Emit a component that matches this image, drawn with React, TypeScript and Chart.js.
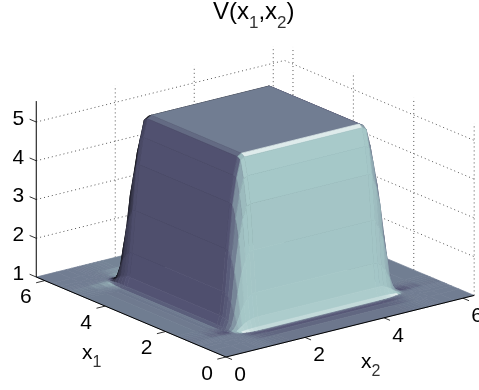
import React, { useEffect, useRef } from "react";
import { Chart, registerables } from "chart.js";

Chart.register(...registerables);

// Sample positions along x1 and x2 (both axes use the same mesh)
const meshX = [0, 0.5, 0.75, 0.9, 0.97, 1.03, 1.1, 1.17, 1.25, 1.35, 1.45, 1.55, 1.65,
  4.63, 4.73, 4.83, 4.93, 5.03, 5.11, 5.18, 5.25, 5.31, 5.38, 5.53, 5.78, 6.283];

// V(x1,x2): one quadrant, the surface mirrors about the centre
const vRow0 = [1, 1, 1, 1, 1, 1, 1, 1, 1, 1, 1, 1, 1];
const vRow1 = [1, 1, 1, 1, 1, 1, 1, 0.998, 0.996, 0.994, 0.993, 0.992, 0.992];
const vRow2 = [1, 1, 1, 1, 1, 1, 0.999, 0.995, 0.99, 0.984, 0.98, 0.978, 0.977];
const vRow3 = [1, 1, 1, 1, 1, 1, 0.998, 0.992, 0.983, 0.973, 0.967, 0.963, 0.962];
const vRow4 = [1, 1, 1, 1, 1, 1, 0.998, 0.992, 0.982, 0.971, 0.965, 0.961, 0.96];
const vRow5 = [1, 1, 1, 1, 1, 1, 1.002, 1.007, 1.015, 1.025, 1.03, 1.034, 1.034];
const vRow6 = [1, 1, 0.999, 0.998, 0.998, 1.002, 1.015, 1.052, 1.116, 1.186, 1.227, 1.254, 1.258];
const vRow7 = [1, 0.998, 0.995, 0.992, 0.992, 1.007, 1.052, 1.172, 1.387, 1.619, 1.757, 1.847, 1.86];
const vRow8 = [1, 0.996, 0.99, 0.983, 0.982, 1.015, 1.116, 1.387, 1.871, 2.393, 2.703, 2.906, 2.935];
const vRow9 = [1, 0.994, 0.984, 0.973, 0.971, 1.025, 1.186, 1.619, 2.393, 3.229, 3.724, 4.05, 4.096];
const vRow10 = [1, 0.993, 0.98, 0.967, 0.965, 1.03, 1.227, 1.757, 2.703, 3.724, 4.33, 4.727, 4.784];
const vRow11 = [1, 0.992, 0.978, 0.963, 0.961, 1.034, 1.254, 1.847, 2.906, 4.05, 4.727, 5.172, 5.236];
const vRow12 = [1, 0.992, 0.977, 0.962, 0.96, 1.034, 1.258, 1.86, 2.935, 4.096, 4.784, 5.236, 5.3];
const vQuadrant = [vRow0, vRow1, vRow2, vRow3, vRow4, vRow5, vRow6, vRow7, vRow8, vRow9, vRow10, vRow11, vRow12];

const x1Ticks = [0, 2, 4, 6];
const x2Ticks = [0, 2, 4, 6];
const zTicks = [1, 2, 3, 4, 5];
const xMax = 6.283;
const zBase = 1;
const zGridTop = 5.44;
const zAxisTop = 5.54;

// Fixed view of the 3-D box, in page units
const project = (x1: number, x2: number, z: number) => ({
  x: 226 + 39.5 * x2 - 30.2 * x1,
  y: 357 - 9.8 * x2 - 12.73 * x1 - 38.75 * (z - zBase),
});

const v = (i: number, j: number) => vQuadrant[i < 13 ? i : 25 - i][j < 13 ? j : 25 - j];

// bone colormap stops
const boneStops: [number, number, number, number][] = [
  [0, 0, 0, 0],
  [0.375, 0.325, 0.325, 0.45],
  [0.75, 0.65, 0.785, 0.785],
  [1, 1, 1, 1],
];
const bone = (t: number) => {
  const c = Math.max(0, Math.min(1, t));
  for (let k = 1; k < boneStops.length; k++) {
    if (c <= boneStops[k][0]) {
      const a = boneStops[k - 1];
      const b = boneStops[k];
      const f = (c - a[0]) / (b[0] - a[0]);
      const ch = (n: number) => Math.round(255 * (a[n] + (b[n] - a[n]) * f));
      return `rgb(${ch(1)},${ch(2)},${ch(3)})`;
    }
  }
  return "#fff";
};

const light = [-0.897, -0.107, 0.427];
const shine = [-0.707, 0, 0.707];
const slopeGain = 2.5;
const shade = (sx1: number, sx2: number) => {
  const a = sx1 * slopeGain;
  const b = sx2 * slopeGain;
  const len = Math.hypot(a, b, 1);
  const n = [-a / len, -b / len, 1 / len];
  const dot = (p: number[]) => n[0] * p[0] + n[1] * p[1] + n[2] * p[2];
  return 0.3 + 0.468 * dot(light) + 0.18 * Math.pow(Math.max(0, dot(shine)), 8);
};

const lineSet = (pts: { x: number; y: number }[], color: string, width: number, dash: number[] = []) => ({
  type: "scatter" as const,
  data: pts,
  showLine: true,
  fill: false,
  pointRadius: 0,
  borderColor: color,
  borderWidth: width,
  borderDash: dash,
  clip: false,
});

function buildDatasets() {
  const sets: any[] = [];
  const black = "#000";
  const tickCol = "#333";
  // axes and ticks on top
  sets.push(lineSet([project(xMax, 0, zBase), project(0, 0, zBase), project(0, xMax, zBase)], black, 1));
  sets.push(lineSet([project(xMax, 0, zBase), project(xMax, 0, zAxisTop)], black, 1));
  x1Ticks.forEach((t) => sets.push(lineSet([project(t, 0, zBase), project(t, -0.22, zBase)], tickCol, 1)));
  x2Ticks.forEach((t) => sets.push(lineSet([project(0, t, zBase), project(-0.2, t, zBase)], tickCol, 1)));
  zTicks.forEach((t) => sets.push(lineSet([project(xMax, 0, t), project(xMax + 0.22, 0, t)], tickCol, 1)));
  // surface, front facets first because later datasets are painted underneath
  for (let i = 0; i < meshX.length - 1; i++) {
    for (let j = 0; j < meshX.length - 1; j++) {
      const a = meshX[i], b = meshX[i + 1], c = meshX[j], d = meshX[j + 1];
      const z00 = v(i, j), z10 = v(i + 1, j), z01 = v(i, j + 1), z11 = v(i + 1, j + 1);
      const s1 = (z10 + z11 - z00 - z01) / (2 * (b - a));
      const s2 = (z01 + z11 - z00 - z10) / (2 * (d - c));
      const color = bone(shade(s1, s2));
      const p0 = project(a, c, z00);
      sets.push({
        type: "scatter" as const,
        data: [p0, project(b, c, z10), project(b, d, z11), project(a, d, z01), p0],
        showLine: true,
        fill: "shape",
        backgroundColor: color,
        borderColor: color,
        borderWidth: 0.7,
        pointRadius: 0,
        clip: false,
      });
    }
  }
  // grid on the two back walls and their dotted lines
  const dotted = [1, 3];
  const gridCol = "#555";
  zTicks.slice(1).forEach((t) => {
    sets.push(lineSet([project(xMax, 0, t), project(xMax, xMax, t), project(0, xMax, t)], gridCol, 1, dotted));
  });
  x2Ticks.slice(1).forEach((t) => {
    sets.push(lineSet([project(xMax, t, zBase), project(xMax, t, zGridTop)], gridCol, 1, dotted));
  });
  x1Ticks.forEach((t) => {
    sets.push(lineSet([project(t, xMax, zBase), project(t, xMax, zGridTop)], gridCol, 1, dotted));
  });
  return sets;
}

const FONT = '"Liberation Sans", Arial, sans-serif';

const textPlugin = {
  id: "labels3d",
  afterDraw(chart: any) {
    const ctx = chart.ctx as CanvasRenderingContext2D;
    const sx = chart.scales.x;
    const sy = chart.scales.y;
    const put = (p: { x: number; y: number }, dx: number, dy: number, s: string) => {
      ctx.fillText(s, sx.getPixelForValue(p.x) + dx, sy.getPixelForValue(p.y) + dy);
    };
    ctx.save();
    ctx.fillStyle = "#000";
    ctx.font = `21px ${FONT}`;
    ctx.textAlign = "center";
    ctx.textBaseline = "middle";
    zTicks.forEach((t) => put(project(xMax, 0, t), -18, -3, String(t)));
    x1Ticks.forEach((t) => put(project(t, 0, zBase), -19, 17, String(t)));
    x2Ticks.forEach((t) => put(project(0, t, zBase), 14, 18, String(t)));

    const sub = (x: number, y: number, main: string, small: string, size: number, smallSize: number, drop: number) => {
      ctx.textAlign = "left";
      ctx.fillStyle = "#000";
      ctx.font = `${size}px ${FONT}`;
      ctx.fillText(main, x, y);
      const w = ctx.measureText(main).width;
      ctx.fillStyle = "#333";
      ctx.font = `${smallSize}px ${FONT}`;
      ctx.fillText(small, x + w, y + drop);
      return x + w + ctx.measureText(small).width;
    };
    sub(82, 353, "x", "1", 21, 16, 10);
    sub(361, 362, "x", "2", 21, 16, 10);
    let tx = 213;
    const ty = 12;
    const titleFont = `24px ${FONT}`;
    ctx.font = titleFont;
    ctx.textAlign = "left";
    ctx.fillStyle = "#000";
    ctx.fillText("V(", tx, ty);
    tx += ctx.measureText("V(").width;
    tx = sub(tx, ty, "x", "1", 24, 17, 11);
    ctx.font = titleFont;
    ctx.fillStyle = "#000";
    ctx.fillText(",", tx, ty);
    tx += ctx.measureText(",").width;
    tx = sub(tx, ty, "x", "2", 24, 17, 11);
    ctx.font = titleFont;
    ctx.fillStyle = "#000";
    ctx.fillText(")", tx, ty);
    ctx.restore();
  },
};

export default function App() {
  const ref = useRef<HTMLCanvasElement>(null);
  useEffect(() => {
    const chart = new Chart(ref.current!, {
      type: "scatter",
      data: { datasets: buildDatasets() },
      options: {
        animation: false,
        responsive: false,
        events: [],
        layout: { padding: 0 },
        plugins: { legend: { display: false }, tooltip: { enabled: false }, title: { display: false } },
        scales: {
          x: { type: "linear", min: 0, max: 479, display: false },
          y: { type: "linear", min: 0, max: 390, reverse: true, display: false },
        },
      },
      plugins: [textPlugin],
    } as any);
    return () => chart.destroy();
  }, []);
  return (
    <canvas
      ref={ref}
      width={479}
      height={390}
      style={{ position: "fixed", left: 0, top: 0, display: "block", background: "#fff" }}
    />
  );
}
